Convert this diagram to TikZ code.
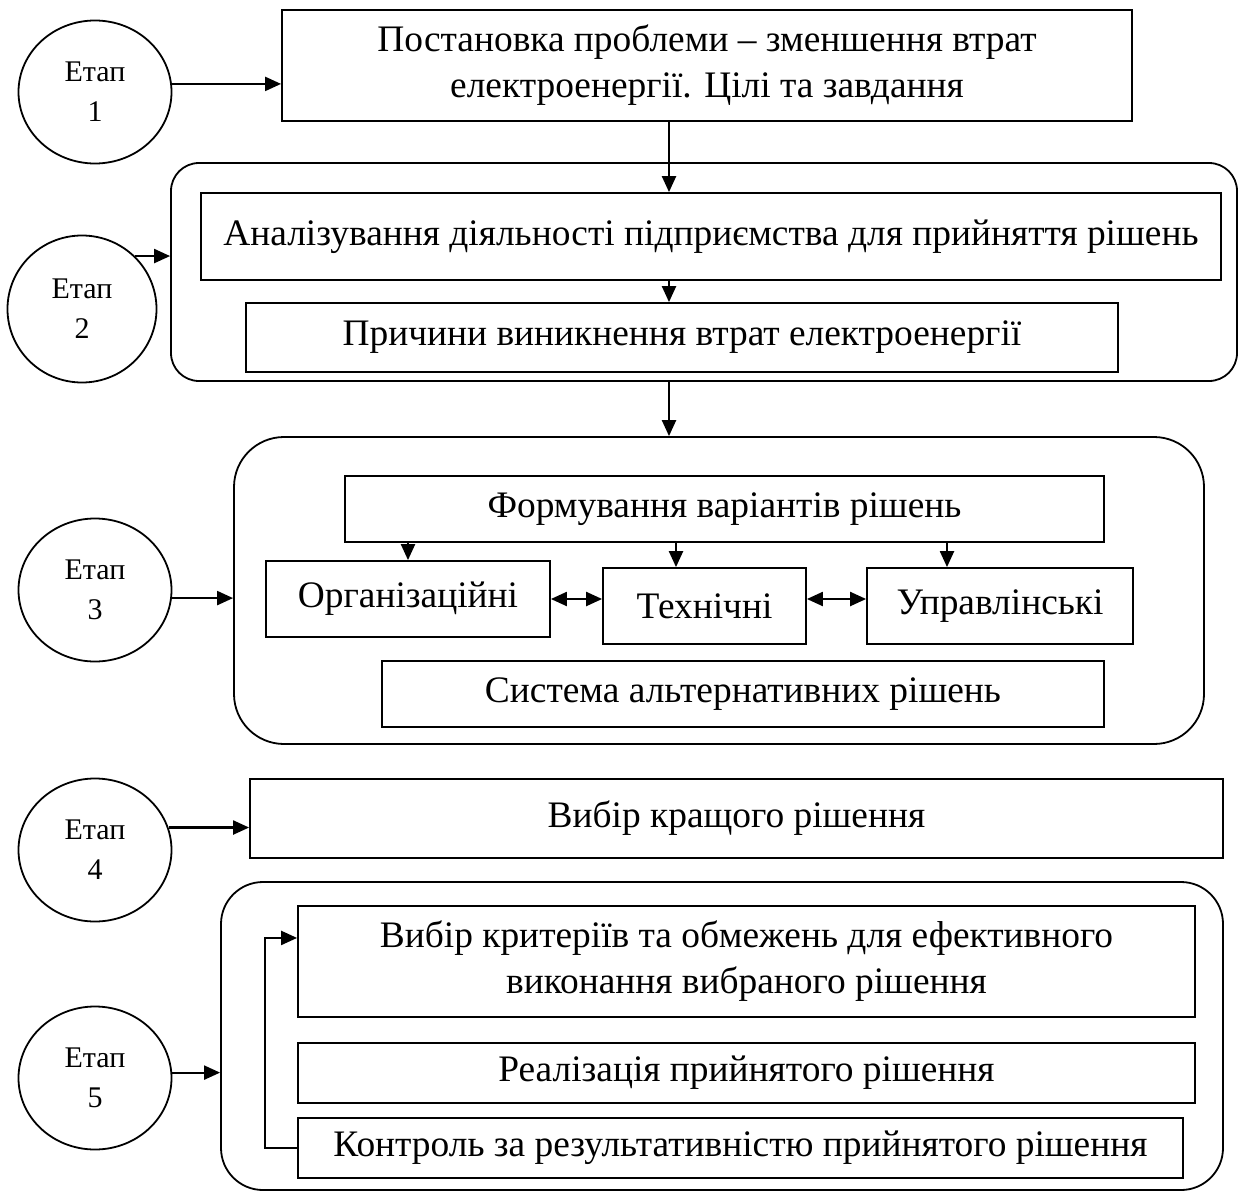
\documentclass[tikz,border=0pt]{standalone}
\usepackage{fontspec}
\setmainfont{Liberation Serif}
\usetikzlibrary{shapes.geometric, arrows.meta}
\tikzset{
    box/.style={rectangle, draw, line width=0.9pt, fill=white, align=center, inner sep=2pt,
        font=\fontsize{18.7}{23}\selectfont},
    group/.style={rectangle, draw, line width=0.9pt, rounded corners=#1},
    etap/.style={ellipse, draw, line width=0.9pt, align=center, inner sep=1pt,
        minimum width=76.5pt, minimum height=71.5pt, font=\fontsize{15}{20}\selectfont},
    arr/.style={-{Triangle[length=8pt, width=7pt]}, line width=1.1pt},
    dbl/.style={{Triangle[length=8pt, width=7pt]}-{Triangle[length=8pt, width=7pt]}, line width=1.1pt},
}

\begin{document}
\begin{tikzpicture}[x=0.5pt, y=-0.5pt]
\useasboundingbox (0,0) rectangle (1241,1193);

% ── Stages ──
\node[etap] (e1) at (95,92) {Етап\\1};
\node[etap, minimum width=74.5pt, minimum height=73.5pt] (e2) at (82,309) {Етап\\2};
\node[etap] (e3) at (95,590) {Етап\\3};
\node[etap] (e4) at (95,850) {Етап\\4};
\node[etap] (e5) at (95,1078) {Етап\\5};

% ── Stage 1 ──
\node[box, minimum width=425pt, minimum height=55.5pt] (b1) at (707,65.5)
    {Постановка проблеми – зменшення втрат\\електроенергії. Цілі та завдання};

% ── Stage 2 ──
\node[group=14pt, minimum width=533pt, minimum height=109pt] (g2) at (704,272) {};
\node[box, minimum width=510pt, minimum height=43.5pt] (b2a) at (711,236.5)
    {Аналізування діяльності підприємства для прийняття рішень};
\node[box, minimum width=436pt, minimum height=34.5pt] (b2b) at (682,337.5)
    {Причини виникнення втрат електроенергії};

% ── Stage 3 ──
\node[group=25pt, minimum width=485pt, minimum height=153.5pt] (g3) at (719,590.5) {};
\node[box, minimum width=379.5pt, minimum height=33pt] (b3) at (724.5,509)
    {Формування варіантів рішень};
\node[box, minimum width=142pt, minimum height=38pt] (org) at (408,599) {Організаційні};
\node[box, minimum width=101.5pt, minimum height=38pt] (tech) at (704.5,606) {Технічні};
\node[box, minimum width=133pt, minimum height=38pt] (upr) at (1000,606) {Управлінські};
\node[box, minimum width=361pt, minimum height=33pt] (alt) at (743,694)
    {Система альтернативних рішень};

% ── Stage 4 ──
\node[box, minimum width=486.5pt, minimum height=39.5pt] (b4) at (736.5,818.5)
    {Вибір кращого рішення};

% ── Stage 5 ──
\node[group=21pt, minimum width=501pt, minimum height=154pt] (g5) at (722,1036) {};
\node[box, minimum width=448.5pt, minimum height=55.5pt] (b5a) at (746.5,961.5)
    {Вибір критеріїв та обмежень для ефективного\\виконання вибраного рішення};
\node[box, minimum width=448.5pt, minimum height=30pt] (b5b) at (746.5,1073)
    {Реалізація прийнятого рішення};
\node[box, minimum width=442.5pt, minimum height=30pt] (b5c) at (740.5,1148)
    {Контроль за результативністю прийнятого рішення};

% ── Connections ──
\coordinate (spine) at (669,0);
\coordinate (tdown) at (676,0);
\coordinate (udown) at (947,0);

\draw[arr] (e1.6) -- (e1.6 -| b1.west);
\draw[arr] (spine |- b1.south) -- (spine |- b2a.north);
\draw[arr] (e2.45) -- (e2.45 -| g2.west);
\draw[arr] (spine |- b2a.south) -- (spine |- b2b.north);
\draw[arr] (spine |- g2.south) -- (spine |- g3.north);

\draw[arr] (e3.-6) -- (e3.-6 -| g3.west);
\draw[arr] (b3.south -| org) -- (org.north);
\draw[arr] (tdown |- b3.south) -- (tdown |- tech.north);
\draw[arr] (udown |- b3.south) -- (udown |- upr.north);
\draw[dbl] (org.east) -- (org.east -| tech.west);
\draw[dbl] (org.east -| tech.east) -- (org.east -| upr.west);

\draw[arr] (e4.17) -- (e4.17 -| b4.west);
\draw[arr] (e5.4) -- (e5.4 -| g5.west);
\draw[arr] (b5c.west) -- ++(-32,0) |- (b5a.177);

\end{tikzpicture}
\end{document}
